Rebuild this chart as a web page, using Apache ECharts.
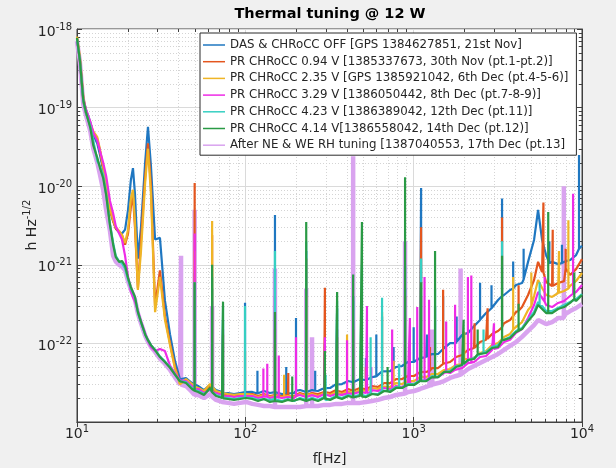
<!DOCTYPE html>
<html>
<head>
<meta charset="utf-8">
<script src="https://cdn.jsdelivr.net/npm/echarts@6/dist/echarts.min.js"></script>
<style>
  html, body { margin: 0; padding: 0; background: #f0f0f0; }
  #chart { width: 616px; height: 468px; }
</style>
</head>
<body>
<div id="chart"></div>
<script>
// Frequency bins of the amplitude spectral densities (Hz)
const freqHz = [
  10, 10.4, 10.9, 11.3, 12, 12.5, 13.2, 13.7, 14.3, 14.9,
  15.7, 16.4, 17, 17.8, 18.5, 19.3, 20.1, 20.9, 21.5, 22.1,
  23, 24, 25.4, 26.4, 27.5, 29.1, 31.1, 33.3, 35.7, 38.2,
  40.9, 44.4, 48.2, 52.4, 56.8, 61.7, 67, 72.7, 78.9, 85.7,
  93, 101, 110, 119, 129, 140, 152, 165, 179, 195,
  211, 230, 249, 270, 294, 319, 346, 375, 408, 443,
  480, 522, 566, 614, 667, 724, 786, 853, 926, 1006,
  1092, 1185, 1286, 1396, 1516, 1646, 1786, 1939, 2105, 2285,
  2480, 2692, 2922, 3172, 3443, 3738, 4057, 4404, 4781, 5190,
  5483, 5793, 6120, 6643, 7211, 7828, 8497, 9224, 10000
];

// Broadband strain sensitivity h [1/sqrt(Hz)] for each configuration
const dasOff = [
  7.5e-19, 4.2e-19, 1.3e-19, 9.5e-20, 6.5e-20, 4.5e-20, 3.5e-20, 2.5e-20, 1.6e-20, 1.0e-20,
  5.0e-21, 3.6e-21, 2.9e-21, 2.6e-21, 2.5e-21, 2.8e-21, 5.0e-21, 1.2e-20, 1.7e-20, 8.0e-21,
  1.2e-21, 3.0e-21, 2.0e-20, 5.7e-20, 1.8e-20, 2.1e-21, 2.2e-21, 3.5e-22, 1.3e-22, 6.0e-23,
  3.5e-23, 3.63e-23, 3.13e-23, 2.87e-23, 2.55e-23, 2.96e-23, 2.55e-23, 2.41e-23, 2.34e-23, 2.27e-23,
  2.34e-23, 2.41e-23, 2.41e-23, 2.27e-23, 2.48e-23, 2.34e-23, 2.48e-23, 2.27e-23, 2.41e-23, 2.34e-23,
  2.55e-23, 2.41e-23, 2.55e-23, 2.48e-23, 2.71e-23, 2.71e-23, 3.04e-23, 3.04e-23, 3.32e-23, 3.23e-23,
  3.52e-23, 3.42e-23, 3.73e-23, 3.85e-23, 4.45e-23, 4.45e-23, 5.01e-23, 5.16e-23, 5.80e-23, 5.80e-23,
  6.52e-23, 6.71e-23, 7.33e-23, 7.33e-23, 8.74e-23, 1.01e-22, 1.01e-22, 1.28e-22, 1.36e-22, 1.66e-22,
  1.98e-22, 2.43e-22, 2.82e-22, 3.57e-22, 4.13e-22, 4.78e-22, 5.54e-22, 5.87e-22, 1.09e-21, 2.07e-21,
  4.98e-21, 2.07e-21, 1.33e-21, 1.09e-21, 1.02e-21, 1.09e-21, 1.15e-21, 1.33e-21, 1.75e-21
];
const pr094 = [
  7.7e-19, 4.0e-19, 1.2e-19, 8.5e-20, 6.0e-20, 4.6e-20, 4.0e-20, 2.8e-20, 1.7e-20, 1.0e-20,
  5.0e-21, 3.6e-21, 2.9e-21, 2.6e-21, 2.4e-21, 1.8e-21, 2.5e-21, 5.5e-21, 7.5e-21, 3.0e-21,
  5.0e-22, 2.0e-21, 1.3e-20, 3.5e-20, 1.0e-20, 3.0e-22, 8.5e-22, 2.2e-22, 1.0e-22, 5.0e-23,
  3.1e-23, 3.42e-23, 2.96e-23, 2.71e-23, 2.41e-23, 2.79e-23, 2.41e-23, 2.27e-23, 2.21e-23, 2.14e-23,
  2.21e-23, 2.27e-23, 2.27e-23, 2.14e-23, 2.27e-23, 2.14e-23, 2.27e-23, 2.14e-23, 2.21e-23, 2.14e-23,
  2.34e-23, 2.21e-23, 2.34e-23, 2.27e-23, 2.41e-23, 2.34e-23, 2.55e-23, 2.41e-23, 2.63e-23, 2.48e-23,
  2.71e-23, 2.63e-23, 2.87e-23, 2.79e-23, 3.13e-23, 3.13e-23, 3.52e-23, 3.52e-23, 3.85e-23, 3.85e-23,
  4.33e-23, 4.33e-23, 4.86e-23, 4.86e-23, 5.63e-23, 5.80e-23, 6.71e-23, 7.12e-23, 8.25e-23, 8.74e-23,
  1.04e-22, 1.11e-22, 1.32e-22, 1.44e-22, 1.81e-22, 1.98e-22, 2.51e-22, 2.90e-22, 4.13e-22, 6.41e-22,
  1.09e-21, 8.10e-22, 6.04e-22, 5.38e-22, 5.87e-22, 6.2e-22, 7.42e-22, 8.8e-22, 1.18e-21
];
const pr235 = [
  8.0e-19, 4.5e-19, 1.4e-19, 9.0e-20, 6.2e-20, 5.0e-20, 4.2e-20, 2.9e-20, 1.8e-20, 1.0e-20,
  5.2e-21, 3.7e-21, 3.0e-21, 2.7e-21, 2.4e-21, 1.9e-21, 2.8e-21, 7.0e-21, 9.0e-21, 3.5e-21,
  4.8e-22, 1.5e-21, 1.1e-20, 3.0e-20, 8.0e-21, 2.5e-22, 7.0e-22, 2.0e-22, 9.5e-23, 4.8e-23,
  3.0e-23, 3.52e-23, 3.04e-23, 2.71e-23, 2.48e-23, 3.04e-23, 2.48e-23, 2.34e-23, 2.27e-23, 2.21e-23,
  2.27e-23, 2.27e-23, 2.21e-23, 2.08e-23, 2.21e-23, 2.08e-23, 2.21e-23, 2.08e-23, 2.14e-23, 2.08e-23,
  2.27e-23, 2.14e-23, 2.27e-23, 2.14e-23, 2.34e-23, 2.21e-23, 2.41e-23, 2.27e-23, 2.48e-23, 2.34e-23,
  2.55e-23, 2.48e-23, 2.71e-23, 2.63e-23, 2.87e-23, 2.79e-23, 3.13e-23, 3.04e-23, 3.32e-23, 3.32e-23,
  3.73e-23, 3.73e-23, 4.08e-23, 4.08e-23, 4.59e-23, 4.72e-23, 5.31e-23, 5.47e-23, 6.33e-23, 6.52e-23,
  7.55e-23, 8.0e-23, 9.54e-23, 1.01e-22, 1.21e-22, 1.32e-22, 1.62e-22, 1.87e-22, 2.66e-22, 4.01e-22,
  6.41e-22, 5.07e-22, 4.13e-22, 3.90e-22, 4.38e-22, 4.64e-22, 5.38e-22, 6.22e-22, 7.87e-22
];
const pr329 = [
  7.5e-19, 4.0e-19, 1.3e-19, 9.5e-20, 6.6e-20, 4.8e-20, 3.8e-20, 2.8e-20, 2.0e-20, 1.35e-20,
  6.5e-21, 4.5e-21, 3.1e-21, 2.5e-21, 2.1e-21, 1.3e-21, 7.0e-22, 4.6e-22, 3.9e-22, 3.4e-22,
  2.6e-22, 1.9e-22, 1.35e-22, 1.08e-22, 9.0e-23, 8.0e-23, 8.5e-23, 8.0e-23, 5.2e-23, 4.2e-23,
  3.4e-23, 3.32e-23, 2.87e-23, 2.63e-23, 2.34e-23, 2.55e-23, 2.34e-23, 2.21e-23, 2.14e-23, 2.08e-23,
  2.14e-23, 2.14e-23, 2.14e-23, 2.02e-23, 2.14e-23, 2.02e-23, 2.14e-23, 2.02e-23, 2.08e-23, 2.02e-23,
  2.21e-23, 2.08e-23, 2.21e-23, 2.08e-23, 2.27e-23, 2.14e-23, 2.27e-23, 2.21e-23, 2.34e-23, 2.27e-23,
  2.41e-23, 2.34e-23, 2.55e-23, 2.48e-23, 2.71e-23, 2.63e-23, 2.87e-23, 2.79e-23, 3.13e-23, 3.04e-23,
  3.42e-23, 3.32e-23, 3.73e-23, 3.73e-23, 4.20e-23, 4.20e-23, 4.72e-23, 4.86e-23, 5.63e-23, 5.80e-23,
  6.71e-23, 6.91e-23, 8.25e-23, 8.74e-23, 1.04e-22, 1.11e-22, 1.36e-22, 1.52e-22, 2.10e-22, 3.08e-22,
  4.51e-22, 3.78e-22, 3.08e-22, 2.90e-22, 3.27e-22, 3.46e-22, 4.01e-22, 4.51e-22, 5.54e-22
];
const pr423 = [
  7.5e-19, 4.0e-19, 1.2e-19, 8.5e-20, 5.8e-20, 3.8e-20, 2.1e-20, 1.8e-20, 1.4e-20, 8.0e-21,
  3.3e-21, 1.9e-21, 1.3e-21, 1.1e-21, 1.05e-21, 9.0e-22, 6.5e-22, 5.0e-22, 4.4e-22, 3.8e-22,
  2.5e-22, 1.85e-22, 1.3e-22, 1.1e-22, 9.5e-23, 8.3e-23, 6.8e-23, 5.9e-23, 5.0e-23, 4.0e-23,
  3.3e-23, 3.23e-23, 2.71e-23, 2.48e-23, 2.27e-23, 2.63e-23, 2.21e-23, 2.08e-23, 2.02e-23, 1.96e-23,
  2.02e-23, 2.08e-23, 2.02e-23, 1.91e-23, 1.96e-23, 1.91e-23, 1.96e-23, 1.85e-23, 1.96e-23, 1.85e-23,
  2.02e-23, 1.91e-23, 2.02e-23, 1.91e-23, 2.08e-23, 1.96e-23, 2.14e-23, 2.02e-23, 2.21e-23, 2.08e-23,
  2.21e-23, 2.14e-23, 2.34e-23, 2.27e-23, 2.55e-23, 2.48e-23, 2.79e-23, 2.71e-23, 3.04e-23, 3.04e-23,
  3.42e-23, 3.32e-23, 3.85e-23, 3.73e-23, 4.33e-23, 4.45e-23, 5.16e-23, 5.31e-23, 6.15e-23, 6.52e-23,
  7.33e-23, 7.77e-23, 9.0e-23, 9.54e-23, 1.11e-22, 1.21e-22, 1.44e-22, 1.57e-22, 1.98e-22, 2.51e-22,
  3.37e-22, 2.99e-22, 2.58e-22, 2.58e-22, 2.82e-22, 3.08e-22, 3.37e-22, 3.67e-22, 4.25e-22
];
const pr414 = [
  7.7e-19, 4.0e-19, 1.25e-19, 8.8e-20, 5.5e-20, 3.3e-20, 2.3e-20, 1.7e-20, 1.27e-20, 7.7e-21,
  3.2e-21, 1.8e-21, 1.25e-21, 1.09e-21, 1.12e-21, 9.7e-22, 6.8e-22, 5.2e-22, 4.5e-22, 3.9e-22,
  2.5e-22, 1.88e-22, 1.3e-22, 1.1e-22, 9.5e-23, 8.2e-23, 6.7e-23, 5.8e-23, 4.9e-23, 4.0e-23,
  3.3e-23, 3.13e-23, 2.63e-23, 2.41e-23, 2.21e-23, 2.71e-23, 2.14e-23, 2.02e-23, 1.96e-23, 1.91e-23,
  1.96e-23, 2.02e-23, 1.96e-23, 1.85e-23, 1.96e-23, 1.80e-23, 1.91e-23, 1.80e-23, 1.91e-23, 1.80e-23,
  1.96e-23, 1.85e-23, 1.96e-23, 1.85e-23, 2.02e-23, 1.91e-23, 2.08e-23, 1.96e-23, 2.14e-23, 2.02e-23,
  2.14e-23, 2.08e-23, 2.27e-23, 2.21e-23, 2.48e-23, 2.41e-23, 2.71e-23, 2.71e-23, 2.96e-23, 2.96e-23,
  3.32e-23, 3.32e-23, 3.73e-23, 3.73e-23, 4.33e-23, 4.33e-23, 5.01e-23, 5.31e-23, 6.15e-23, 6.33e-23,
  7.33e-23, 7.55e-23, 8.74e-23, 9.0e-23, 1.11e-22, 1.17e-22, 1.40e-22, 1.52e-22, 1.92e-22, 2.36e-22,
  3.08e-22, 2.74e-22, 2.43e-22, 2.43e-22, 2.74e-22, 2.90e-22, 3.27e-22, 3.46e-22, 4.13e-22
];
const afterRH = [
  7.0e-19, 3.8e-19, 1.1e-19, 8.0e-20, 5.0e-20, 3.0e-20, 2.0e-20, 1.4e-20, 9.0e-21, 5.0e-21,
  2.7e-21, 1.3e-21, 1.1e-21, 1.0e-21, 9.5e-22, 8.5e-22, 6.2e-22, 4.8e-22, 4.2e-22, 3.6e-22,
  2.4e-22, 1.8e-22, 1.25e-22, 1.05e-22, 9.0e-23, 7.8e-23, 6.4e-23, 5.5e-23, 4.6e-23, 3.7e-23,
  3.0e-23, 2.87e-23, 2.41e-23, 2.21e-23, 2.02e-23, 2.27e-23, 1.91e-23, 1.80e-23, 1.75e-23, 1.70e-23,
  1.75e-23, 1.80e-23, 1.70e-23, 1.65e-23, 1.60e-23, 1.60e-23, 1.55e-23, 1.55e-23, 1.55e-23, 1.55e-23,
  1.55e-23, 1.60e-23, 1.60e-23, 1.60e-23, 1.65e-23, 1.65e-23, 1.70e-23, 1.70e-23, 1.75e-23, 1.75e-23,
  1.75e-23, 1.80e-23, 1.85e-23, 1.91e-23, 2.02e-23, 2.08e-23, 2.21e-23, 2.27e-23, 2.41e-23, 2.48e-23,
  2.63e-23, 2.79e-23, 2.96e-23, 3.13e-23, 3.32e-23, 3.63e-23, 3.85e-23, 4.20e-23, 4.72e-23, 5.16e-23,
  5.63e-23, 6.15e-23, 6.71e-23, 7.33e-23, 8.25e-23, 9.27e-23, 1.04e-22, 1.21e-22, 1.44e-22, 1.71e-22,
  1.98e-22, 1.87e-22, 1.76e-22, 1.87e-22, 2.10e-22, 2.30e-22, 2.58e-22, 2.82e-22, 3.17e-22
];

// Narrow spectral lines: [frequency Hz, floor level, line peak]
const dasOffLines = [
  [50, 3.0e-23, 8e-22], [63.5, 2.8e-23, 5e-22], [73.7, 2.3e-23, 2.0e-22], [99.6, 2.4e-23, 3.3e-22],
  [118, 2.3e-23, 4.5e-23], [150, 2.4e-23, 4.3e-21], [175, 2.3e-23, 5e-23], [200, 2.5e-23, 2.1e-22],
  [230, 2.4e-23, 1.5e-21], [260, 2.5e-23, 4.5e-23], [297, 2.7e-23, 1.0e-22], [351, 3.0e-23, 2.8e-22],
  [437, 3.2e-23, 4e-22], [520, 3.4e-23, 6.5e-23], [600, 3.8e-23, 1.3e-22], [649, 4.4e-23, 2.2e-22],
  [760, 4.8e-23, 9e-23], [889, 5.5e-23, 5e-22], [1000, 5.8e-23, 1.6e-22], [1107, 6.5e-23, 9.5e-21],
  [1200, 6.8e-23, 1.3e-22], [1340, 7.3e-23, 3e-22], [1496, 8.5e-23, 4e-22], [1800, 1.05e-22, 2.2e-22],
  [2480, 2.0e-22, 5.9e-22], [2900, 2.8e-22, 5.5e-22], [3350, 4.0e-22, 7e-21], [3900, 5.0e-22, 1.1e-21],
  [4500, 6.5e-22, 1.6e-21], [6400, 1.05e-21, 2.0e-21], [7600, 1.05e-21, 1.8e-21], [9600, 1.6e-21, 2.5e-20]
];
const pr094Lines = [
  [50, 2.7e-23, 1.1e-20], [63.5, 2.6e-23, 2.4e-21], [73.7, 2.2e-23, 1.3e-22], [99.6, 2.25e-23, 8e-23],
  [150, 2.2e-23, 1.5e-22], [180, 2.1e-23, 4.2e-23], [230, 2.2e-23, 1.2e-21], [297, 2.4e-23, 5.1e-22],
  [351, 2.5e-23, 1.2e-22], [437, 2.5e-23, 1.5e-22], [520, 2.6e-23, 5e-23], [889, 3.7e-23, 4e-22],
  [1107, 4.3e-23, 3e-21], [1250, 4.5e-23, 9e-23], [1496, 5.5e-23, 4.8e-22], [2300, 8.8e-23, 1.8e-22],
  [2750, 1.15e-22, 2.8e-22], [3350, 1.6e-22, 4e-21], [4200, 2.6e-22, 5.5e-22], [5900, 8e-22, 6.2e-21],
  [6700, 5.4e-22, 2.8e-21], [8000, 9e-22, 1.6e-21]
];
const pr235Lines = [
  [50, 2.8e-23, 1.5e-21], [63.5, 2.8e-23, 3.6e-21], [150, 2.15e-23, 1e-22], [170, 2.1e-23, 4e-23],
  [230, 2.2e-23, 4e-22], [402, 2.45e-23, 1.3e-22], [649, 2.85e-23, 2.5e-22], [760, 3e-23, 6e-23],
  [2000, 6.3e-23, 1.4e-22], [3900, 1.5e-22, 7e-22], [5000, 3e-22, 8e-22], [7300, 4.4e-22, 1.5e-21],
  [8300, 5e-22, 3.7e-21]
];
const pr329Lines = [
  [50, 2.6e-23, 2.5e-21], [63.5, 2.4e-23, 3.5e-22], [73.7, 2.1e-23, 1.5e-22], [128, 2.1e-23, 4.8e-23],
  [135, 2.1e-23, 5.5e-23], [150, 2.1e-23, 4e-22], [158, 2.05e-23, 7e-23], [200, 2.15e-23, 1.2e-22],
  [297, 2.25e-23, 1.2e-22], [351, 2.25e-23, 1.5e-22], [402, 2.3e-23, 1.1e-22], [437, 2.3e-23, 2e-22],
  [528, 2.35e-23, 3e-22], [560, 2.4e-23, 5e-23], [745, 2.65e-23, 1.5e-22], [950, 3.1e-23, 2.1e-22],
  [1050, 3.2e-23, 2.9e-22], [1107, 3.4e-23, 4e-22], [1160, 3.35e-23, 7e-22], [1234, 3.6e-23, 3.6e-22],
  [1560, 4.3e-23, 1.9e-22], [1762, 4.6e-23, 3.1e-22], [2100, 5.6e-23, 7e-22], [2200, 5.7e-23, 7.3e-22],
  [3000, 8.5e-23, 1.8e-22], [6000, 3.4e-22, 7e-22], [8850, 4.3e-22, 8e-21]
];
const pr423Lines = [
  [50, 2.55e-23, 6e-22], [63.5, 2.4e-23, 7e-22], [73.7, 2.05e-23, 3.0e-22], [99.6, 2.05e-23, 3.0e-22],
  [150, 1.95e-23, 1.5e-21], [230, 1.9e-23, 2.0e-21], [300, 1.9e-23, 4e-23], [351, 2.1e-23, 3.5e-22],
  [437, 2.1e-23, 3.5e-22], [493, 2.2e-23, 1.0e-21], [555, 2.3e-23, 1.2e-22], [649, 2.5e-23, 3.8e-22],
  [820, 2.75e-23, 5.5e-23], [889, 2.9e-23, 1e-21], [1107, 3.4e-23, 1.2e-21], [1340, 3.8e-23, 5e-22],
  [2600, 7.6e-23, 1.5e-22], [3350, 1.1e-22, 2e-21], [5600, 3e-22, 6e-22]
];
const pr414Lines = [
  [50, 2.5e-23, 6e-22], [63.5, 2.4e-23, 1.0e-21], [73.7, 2.0e-23, 3.4e-22], [150, 1.85e-23, 2.5e-22],
  [190, 1.85e-23, 3.8e-23], [230, 1.85e-23, 3.5e-21], [297, 2.0e-23, 8e-23], [351, 2.05e-23, 4.5e-22],
  [437, 2.05e-23, 7.5e-22], [493, 2.1e-23, 3.5e-21], [700, 2.45e-23, 5e-23], [889, 2.85e-23, 1.3e-20],
  [1107, 3.3e-23, 6e-22], [1340, 3.7e-23, 1.5e-21], [1980, 5.5e-23, 2.0e-22], [2400, 7.3e-23, 1.5e-22],
  [3350, 1.1e-22, 1.3e-21], [4200, 1.45e-22, 3.2e-22], [6300, 2.45e-22, 4.7e-21], [9000, 3.7e-22, 8e-22]
];
const afterRHLines = [
  [41.5, 3.0e-23, 1.3e-21], [50, 2.2e-23, 5e-21], [63.5, 2.1e-23, 3e-22], [150, 1.55e-23, 9e-22],
  [230, 1.6e-23, 5e-22], [249, 1.6e-23, 1.2e-22], [437, 1.75e-23, 2.4e-20], [889, 2.3e-23, 2e-21],
  [1240, 2.9e-23, 1.2e-22], [1290, 3.0e-23, 1.5e-22], [1900, 4.0e-23, 9e-22], [7800, 2.1e-22, 1.0e-20]
];

// Legend labels
const seriesNames = [
  'DAS & CHRoCC OFF [GPS 1384627851, 21st Nov]',
  'PR CHRoCC 0.94 V [1385337673, 30th Nov (pt.1-pt.2)]',
  'PR CHRoCC 2.35 V [GPS 1385921042, 6th Dec (pt.4-5-6)]',
  'PR CHRoCC 3.29 V [1386050442, 8th Dec (pt.7-8-9)]',
  'PR CHRoCC 4.23 V [1386389042, 12th Dec (pt.11)]',
  'PR CHRoCC 4.14 V[1386558042, 14th Dec (pt.12)]',
  'After NE & WE RH tuning [1387040553, 17th Dec (pt.13]'
];

// Axis decades and their tick labels (powers of ten)
const xTickExponents = [1, 2, 3, 4];
const yTickExponents = [-23, -22, -21, -20, -19, -18];
const X_MIN = 10, X_MAX = 10000, Y_MIN = 1e-23, Y_MAX = 1e-18;

// Minor grid positions (2..9 within each decade)
const xMinorHz = [20, 30, 40, 50, 60, 70, 80, 90, 200, 300, 400, 500, 600, 700, 800, 900,
  2000, 3000, 4000, 5000, 6000, 7000, 8000, 9000];
const yMinor = [
  2e-23, 3e-23, 4e-23, 5e-23, 6e-23, 7e-23, 8e-23, 9e-23,
  2e-22, 3e-22, 4e-22, 5e-22, 6e-22, 7e-22, 8e-22, 9e-22,
  2e-21, 3e-21, 4e-21, 5e-21, 6e-21, 7e-21, 8e-21, 9e-21,
  2e-20, 3e-20, 4e-20, 5e-20, 6e-20, 7e-20, 8e-20, 9e-20,
  2e-19, 3e-19, 4e-19, 5e-19, 6e-19, 7e-19, 8e-19, 9e-19
];

const FONT = 'DejaVu Sans';
const TEXT = '#262626';
const AXIS = '#404040';

// Merge the broadband floor with the narrow lines, sorted by frequency
function buildCurve(values, lines) {
  const pts = freqHz.map((f, i) => ({ f: f, v: values[i], k: 0 }));
  lines.forEach(([f, base, peak]) => {
    pts.push({ f: f, v: base, k: 1 }, { f: f, v: peak, k: 2 }, { f: f, v: base, k: 3 });
  });
  pts.sort((a, b) => (a.f - b.f) || (a.k - b.k));
  return pts.map(p => [p.f, p.v]);
}

function powerLabel(value, exps) {
  const e = Math.round(Math.log10(value));
  return exps.indexOf(e) >= 0 ? '{b|10}{s|' + e + '}' : '';
}

const powRich = {
  b: { fontFamily: FONT, fontSize: 14, color: TEXT, lineHeight: 14, padding: [6, 0, 0, 0] },
  s: { fontFamily: FONT, fontSize: 10, color: TEXT, lineHeight: 10, verticalAlign: 'top' }
};

const styles = [
  { values: dasOff, lines: dasOffLines, color: '#1f77c1', width: 2.2, z: 4 },
  { values: pr094, lines: pr094Lines, color: '#e4561e', width: 2.2, z: 4 },
  { values: pr235, lines: pr235Lines, color: '#efb526', width: 2.2, z: 4 },
  { values: pr329, lines: pr329Lines, color: '#ee2be6', width: 2.2, z: 4 },
  { values: pr423, lines: pr423Lines, color: '#36cfc2', width: 2.2, z: 4 },
  { values: pr414, lines: pr414Lines, color: '#2a9a45', width: 2.2, z: 4 },
  { values: afterRH, lines: afterRHLines, color: '#d9a3ef', width: 4.5, z: 3 }
];

const dataSeries = styles.map((s, i) => ({
  name: seriesNames[i],
  type: 'line',
  xAxisIndex: 0,
  yAxisIndex: 0,
  data: buildCurve(s.values, s.lines),
  color: s.color,
  showSymbol: false,
  symbol: 'none',
  smooth: false,
  clip: true,
  z: s.z,
  lineStyle: { color: s.color, width: s.width },
  emphasis: { disabled: true }
}));

// Dotted minor grid and small inward ticks, placed through the axis scales
const xMinorSeries = {
  type: 'custom',
  silent: true,
  z: 1,
  xAxisIndex: 0, yAxisIndex: 0,
  data: xMinorHz.map(f => [f, 1e-20]),
  encode: { x: 0, y: 1 },
  renderItem: function (params, api) {
    const f = api.value(0);
    const b = api.coord([f, Y_MIN]);
    const t = api.coord([f, Y_MAX]);
    const x = Math.round(b[0]) + 0.5;
    return { type: 'group', children: [
      { type: 'line', shape: { x1: x, y1: b[1], x2: x, y2: t[1] }, style: { stroke: '#d4d4d4', lineWidth: 1, lineDash: [1, 2] } },
      { type: 'line', shape: { x1: x, y1: b[1], x2: x, y2: b[1] - 3 }, style: { stroke: AXIS, lineWidth: 1 } },
      { type: 'line', shape: { x1: x, y1: t[1], x2: x, y2: t[1] + 3 }, style: { stroke: AXIS, lineWidth: 1 } }
    ] };
  }
};
const yMinorSeries = {
  type: 'custom',
  silent: true,
  z: 1,
  xAxisIndex: 0, yAxisIndex: 0,
  data: yMinor.map(v => [100, v]),
  encode: { x: 0, y: 1 },
  renderItem: function (params, api) {
    const v = api.value(1);
    const l = api.coord([X_MIN, v]);
    const r = api.coord([X_MAX, v]);
    const y = Math.round(l[1]) + 0.5;
    return { type: 'group', children: [
      { type: 'line', shape: { x1: l[0], y1: y, x2: r[0], y2: y }, style: { stroke: '#d4d4d4', lineWidth: 1, lineDash: [1, 2] } },
      { type: 'line', shape: { x1: l[0], y1: y, x2: l[0] + 3, y2: y }, style: { stroke: AXIS, lineWidth: 1 } },
      { type: 'line', shape: { x1: r[0], y1: y, x2: r[0] - 3, y2: y }, style: { stroke: AXIS, lineWidth: 1 } }
    ] };
  }
};

const chart = echarts.init(document.getElementById('chart'));
chart.setOption({
  animation: false,
  backgroundColor: '#f0f0f0',
  title: {
    text: 'Thermal tuning @ 12 W',
    left: 325, top: 2, textAlign: 'center',
    textStyle: { fontFamily: FONT, fontSize: 14.5, fontWeight: 'bold', color: '#000' }
  },
  // Vertical axis title with its superscript unit exponent
  graphic: [{
    type: 'text',
    x: 29, y: 225,
    rotation: Math.PI / 2,
    silent: true,
    style: {
      text: '{t|h Hz}{s|-1/2}',
      align: 'center', verticalAlign: 'middle',
      rich: {
        t: { fontFamily: FONT, fontSize: 14, fill: TEXT, lineHeight: 14, padding: [6, 0, 0, 0] },
        s: { fontFamily: FONT, fontSize: 10, fill: TEXT, lineHeight: 10, verticalAlign: 'top' }
      }
    }
  }],
  grid: {
    left: 77, top: 29, width: 505, height: 393,
    containLabel: false, outerBoundsMode: 'none',
    show: true, backgroundColor: '#ffffff', borderColor: AXIS, borderWidth: 1
  },
  legend: {
    orient: 'vertical',
    left: 200, top: 33,
    data: seriesNames,
    icon: 'rect',
    itemWidth: 22, itemHeight: 1.5, itemGap: 2.7,
    padding: [5, 8, 3, 3],
    backgroundColor: '#ffffff', borderColor: '#2b2b2b', borderWidth: 1,
    textStyle: { fontFamily: FONT, fontSize: 11.8, color: TEXT, lineHeight: 14 },
    selectedMode: false
  },
  xAxis: [
    {
      type: 'log', logBase: 10, min: X_MIN, max: X_MAX, position: 'bottom',
      name: 'f[Hz]', nameLocation: 'middle', nameGap: 30,
      nameTextStyle: { fontFamily: FONT, fontSize: 14, color: TEXT },
      axisLine: { show: true, lineStyle: { color: AXIS, width: 1 } },
      axisTick: { show: true, inside: true, length: 5, lineStyle: { color: AXIS } },
      axisLabel: { margin: 2, formatter: v => powerLabel(v, xTickExponents), rich: powRich },
      splitLine: { show: true, lineStyle: { color: '#dadada', width: 1 } }
    },
    {
      type: 'log', logBase: 10, min: X_MIN, max: X_MAX, position: 'top',
      axisLine: { show: true, lineStyle: { color: AXIS, width: 1 } },
      axisTick: { show: true, inside: true, length: 5, lineStyle: { color: AXIS } },
      axisLabel: { show: false },
      splitLine: { show: false }
    }
  ],
  yAxis: [
    {
      type: 'log', logBase: 10, min: Y_MIN, max: Y_MAX, position: 'left',
      axisLine: { show: true, lineStyle: { color: AXIS, width: 1 } },
      axisTick: { show: true, inside: true, length: 5, lineStyle: { color: AXIS } },
      axisLabel: { margin: 5, formatter: v => powerLabel(v, yTickExponents), rich: powRich },
      splitLine: { show: true, lineStyle: { color: '#dadada', width: 1 } }
    },
    {
      type: 'log', logBase: 10, min: Y_MIN, max: Y_MAX, position: 'right',
      axisLine: { show: true, lineStyle: { color: AXIS, width: 1 } },
      axisTick: { show: true, inside: true, length: 5, lineStyle: { color: AXIS } },
      axisLabel: { show: false },
      splitLine: { show: false }
    }
  ],
  series: [xMinorSeries, yMinorSeries].concat(dataSeries)
});
</script>
</body>
</html>
